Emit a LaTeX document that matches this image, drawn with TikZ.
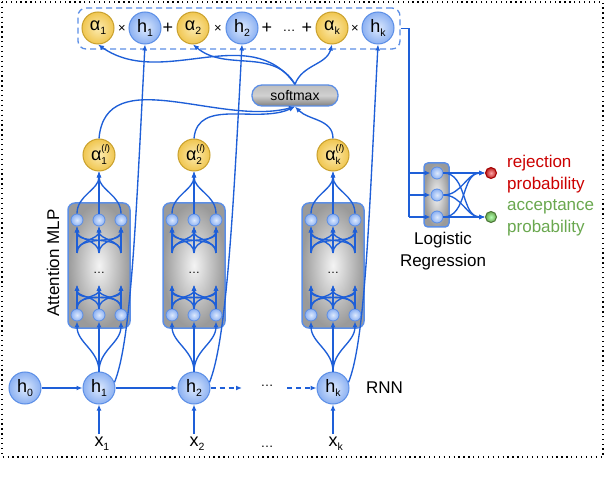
\documentclass[tikz,border=0pt]{standalone}
\usepackage{fontspec}
\setmainfont{Liberation Sans}
\usetikzlibrary{arrows.meta}
\definecolor{lb}{HTML}{1E5FD8}
\definecolor{nbord}{HTML}{5B8EE6}
\definecolor{nin}{HTML}{DDE9FD}
\definecolor{nout}{HTML}{8CB1F2}
\definecolor{yin}{HTML}{FCEBB0}
\definecolor{yout}{HTML}{F0C650}
\definecolor{ybord}{HTML}{C9A02C}
\definecolor{gin}{HTML}{F4F4F4}
\definecolor{gout}{HTML}{9A9A9A}
\definecolor{rejred}{HTML}{CC0000}
\definecolor{accgreen}{HTML}{6AA84F}
\newcommand\mysub[1]{\raisebox{-4pt}{\fontsize{10.5}{11}\selectfont #1}}
\newcommand\myalsup[1]{α\rlap{\raisebox{8.5pt}{\fontsize{9.5}{10}\selectfont(\textit{l})}}\raisebox{-4.5pt}{\fontsize{10}{10}\selectfont #1}}
\begin{document}
\begin{tikzpicture}[x=1pt,y=1pt,
  fs/.style={font=\fontsize{#1}{#1}\selectfont},
  bignode/.style={circle, minimum size=32pt, inner sep=0pt, line width=1pt, font=\fontsize{18}{18}\selectfont},
  hnode/.style={bignode, draw=nbord, inner color=nin, outer color=nout},
  anode/.style={bignode, draw=ybord, inner color=yin, outer color=yout},
  snode/.style={circle, minimum size=12pt, inner sep=0pt, line width=0.8pt, draw=nbord, inner color=nin, outer color=nout},
  gbox/.style={rounded corners=7pt, draw=nbord, line width=1.5pt, inner color=gin, outer color=gout, inner sep=0pt},
  arr/.style={draw=lb, line width=1.35pt, -{Latex[length=6pt,width=5pt]}},
  plain/.style={draw=lb, line width=1.35pt},
  opnode/.style={inner sep=0pt, font=\fontsize{#1}{#1}\selectfont},
]
\useasboundingbox (0,0) rectangle (606,-492);
\fill[white] (0,0) rectangle (606,-492);
\draw[line width=1.3pt, dash pattern=on 1.3pt off 3.6pt] (2,-2) rectangle (603,-457);

% top dashed box
\node[draw=nbord, line width=1.3pt, dash pattern=on 6pt off 4pt, rounded corners=8pt,
      minimum width=322pt, minimum height=41pt, inner sep=0pt] (tb) at (239,-28.5) {};
\node[anode] (ta1) at (98,-28) {α\mysub{1}};
\node[opnode=13] (m1) at (122,-29) {×};
\node[hnode] (th1) at (145,-28) {h\mysub{1}};
\node[opnode=18] (p1) at (168,-28) {+};
\node[anode] (ta2) at (193,-28) {α\mysub{2}};
\node[opnode=13] (m2) at (218,-29) {×};
\node[hnode] (th2) at (242,-28) {h\mysub{2}};
\node[opnode=18] (p2) at (267,-28) {+};
\node[opnode=13] (td) at (289,-31) {…};
\node[opnode=18] (p3) at (307,-28) {+};
\node[anode] (tak) at (332,-28) {α\mysub{k}};
\node[opnode=13] (m3) at (355,-29) {×};
\node[hnode] (thk) at (378,-28) {h\mysub{k}};

% softmax
\node[draw=nbord, line width=1.3pt, rounded corners=10pt, minimum width=86pt, minimum height=21pt,
      inner sep=0pt, top color=black!26, bottom color=black!50, middle color=black!18,
      font=\fontsize{14}{14}\selectfont] (sm) at (295,-95.5) {softmax};

% bottom RNN chain
\node[hnode] (hb0) at (25,-388) {h\mysub{0}};
\node[hnode] (hb1) at (99,-388) {h\mysub{1}};
\node[hnode] (hb2) at (194,-388) {h\mysub{2}};
\node[hnode] (hbk) at (333,-388) {h\mysub{k}};
\node[fs=17] (rnn) at (384.5,-388) {RNN};
\coordinate (d1) at (242,-388);
\coordinate (d2) at (287,-388);
\node[opnode=13] (hd) at (267,-386) {…};
\draw[arr] (hb0) -- (hb1);
\draw[arr] (hb1) -- (hb2);
\draw[arr, dash pattern=on 5pt off 4pt] (hb2) -- (d1);
\draw[arr, dash pattern=on 5pt off 4pt] (d2) -- (hbk);

% inputs
\node[fs=18, inner sep=3pt] (x1) at (99,-444) {x\rlap{\mysub{1}}};
\node[fs=18, inner sep=3pt] (x2) at (194,-444) {x\rlap{\mysub{2}}};
\node[opnode=13] (xd) at (267,-447) {…};
\node[fs=18, inner sep=3pt] (xk) at (333,-444) {x\rlap{\mysub{k}}};
\draw[arr] (x1.north) -- (hb1.south);
\draw[arr] (x2.north) -- (hb2.south);
\draw[arr] (xk.north) -- (hbk.south);

% attention MLP columns
\node[fs=17, rotate=90] (attn) at (53,-263) {Attention MLP};
\foreach \c/\n/\lab in {99/1/1, 194/2/2, 333/k/k} {
  \node[gbox, minimum width=62pt, minimum height=125pt] (box\n) at (\c,-265.5) {};
  \node[opnode=12] (dots\n) at (\c,-273) {…};
  \node[anode] (al\n) at (\c,-155) {\myalsup{\lab}};
  \foreach \i/\dx in {1/-22, 2/0, 3/22} {
    \node[snode] (t\n\i) at (\c+\dx,-220) {};
    \node[snode] (b\n\i) at (\c+\dx,-315) {};
    \coordinate (lo\n\i) at (\c+\dx,-285);
    \coordinate (hi\n\i) at (\c+\dx,-253);
  }
  \foreach \i in {1,2,3} {
    \foreach \j in {1,2,3} {
      \draw[arr] (b\n\i.north) to[out=90,in=-90] (lo\n\j);
      \draw[arr] (hi\n\i) to[out=90,in=-90] (t\n\j.south);
    }
    \draw[arr] (hb\n.north) to[out=90,in=-90] (b\n\i.south);
    \draw[arr] (t\n\i.north) to[out=90,in=-90] (al\n.south);
  }
  \draw[arr] (hb\n.20) .. controls +(68:45) and +(-93:170) .. (th\n.south);
}

% alpha^(l) -> softmax
\draw[arr] (al1.north) to[out=85,in=-165] (sm.south);
\draw[arr] (al2.north) to[out=85,in=-155] (sm.south);
\draw[arr] (alk.north) to[out=90,in=-45] (sm.south);
% softmax -> alphas
\draw[arr] (sm.north) to[out=125,in=-35] (ta1.south);
\draw[arr] (sm.north) to[out=120,in=-40] (ta2.south);
\draw[arr] (sm.north) to[out=70,in=-105] (tak.south);

% logistic regression
\node[gbox, rounded corners=4pt, minimum width=25pt, minimum height=64pt] (lrbox) at (436.5,-195) {};
\node[snode] (lr1) at (437,-173) {};
\node[snode] (lr2) at (437,-195) {};
\node[snode] (lr3) at (437,-217) {};
\coordinate (br1) at (409,-173);
\coordinate (br2) at (409,-195);
\coordinate (br3) at (409,-217);
\draw[plain] (tb.east) -| (br3);
\draw[arr] (br1) -- (lr1.west);
\draw[arr] (br2) -- (lr2.west);
\draw[arr] (br3) -- (lr3.west);
\node[circle, minimum size=11pt, inner sep=0pt, line width=1pt, draw=rejred!80!black, inner color=red!35, outer color=red!70!black!90] (rej) at (491,-173) {};
\node[circle, minimum size=11pt, inner sep=0pt, line width=1pt, draw=accgreen!70!black, inner color=green!30!white, outer color=accgreen] (acc) at (491,-217) {};
\foreach \i in {1,2,3} {
  \draw[arr] (lr\i.east) to[out=0,in=180] (rej.west);
  \draw[arr] (lr\i.east) to[out=0,in=180] (acc.west);
}
\node[anchor=west, align=left, text=rejred, font=\fontsize{17}{22}\selectfont, inner sep=0pt] (rejt) at (507,-174) {rejection\\probability};
\node[anchor=west, align=left, text=accgreen, font=\fontsize{17}{22}\selectfont, inner sep=0pt] (acct) at (507,-217.5) {acceptance\\probability};
\node[align=center, font=\fontsize{17}{22}\selectfont, inner sep=0pt] (lrt) at (443,-251) {Logistic\\Regression};
\end{tikzpicture}
\end{document}
